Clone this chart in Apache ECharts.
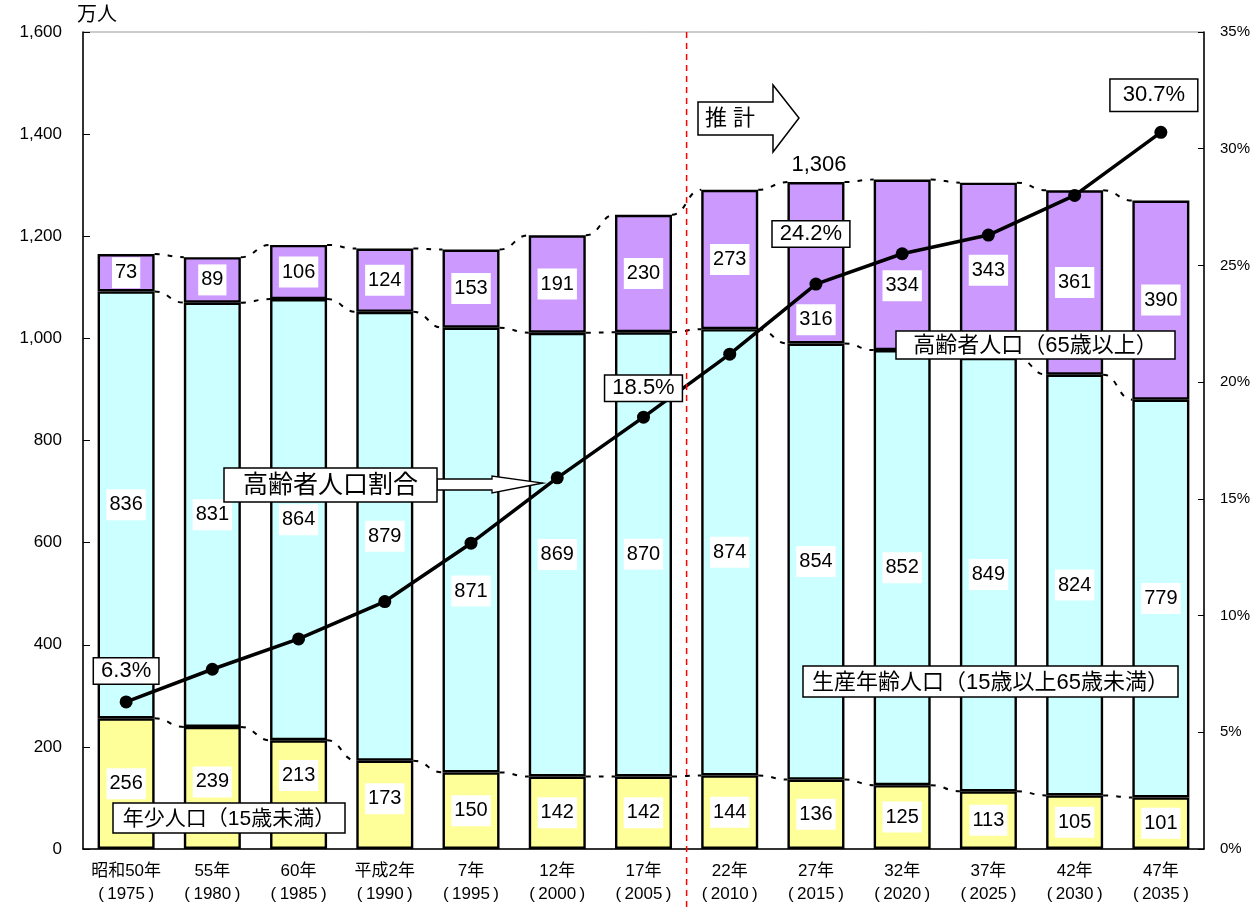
<!DOCTYPE html>
<html><head><meta charset="utf-8">
<script src="https://cdn.jsdelivr.net/npm/echarts@6/dist/echarts.min.js"></script>
<style>html,body{margin:0;padding:0;background:#fff}#c{width:1253px;height:908px}</style>
</head><body><div id="c"></div>
<script>
// ---- data ----
const categories = ['昭和50年\n(\u20091975\u2009)','55年\n(\u20091980\u2009)','60年\n(\u20091985\u2009)','平成2年\n(\u20091990\u2009)','7年\n(\u20091995\u2009)','12年\n(\u20092000\u2009)','17年\n(\u20092005\u2009)','22年\n(\u20092010\u2009)','27年\n(\u20092015\u2009)','32年\n(\u20092020\u2009)','37年\n(\u20092025\u2009)','42年\n(\u20092030\u2009)','47年\n(\u20092035\u2009)'];
const youngPop   = [256,239,213,173,150,142,142,144,136,125,113,105,101];
const workingPop = [836,831,864,879,871,869,870,874,854,852,849,824,779];
const elderlyPop = [73,89,106,124,153,191,230,273,316,334,343,361,390];
const elderlyRatio = [6.3,7.7,9.0,10.6,13.1,15.9,18.5,21.2,24.2,25.5,26.3,28.0,30.7];
const leftAxisMax = 1600, leftAxisStep = 200;
const rightAxisMax = 35, rightAxisStep = 5;
const forecastStartIndex = 7;
const peakIndex = 8;

// ---- styles / label placement ----
const FONT = "'Liberation Sans', Arial, 'Noto Sans CJK JP', sans-serif";
const BAR_W = 57;
const youngShift = {1:-6, 2:-19, 3:-6};
const workShift = {4:41};
const elderShift = {8:57, 9:21};
const ratioLabelShift = {0:[0,-7], 6:[0,-5], 8:[-5,-26], 12:[-7,-10]};

const lvl1 = youngPop.slice();
const lvl2 = youngPop.map((v,i)=>v+workingPop[i]);
const lvl3 = lvl2.map((v,i)=>v+elderlyPop[i]);

const barLabel = {
  show:true, position:'inside', color:'#000', fontFamily:FONT, fontSize:20,
  backgroundColor:'#fff', padding:[5,3,5,3], lineHeight:21
};
function barData(arr, shift){
  return arr.map((v,i)=> shift[i] !== undefined ? {value:v, label:{offset:[0,shift[i]]}} : v);
}
const ratioData = elderlyRatio.map((v,i)=>{
  if (ratioLabelShift[i] === undefined) return v;
  const big = i === elderlyRatio.length-1;
  return {value:v, label:{show:true, position:'top', distance:5, offset:ratioLabelShift[i],
    formatter: v.toFixed(1)+'%', color:'#000', fontFamily:FONT, fontSize:22,
    backgroundColor:'#fff', borderColor:'#000', borderWidth:1.5,
    padding: big ? [4,12,4,12] : [1,7,1,7], lineHeight:23}};
});

function renderConnectors(params, api){
  const i = params.dataIndex;
  if (i >= categories.length-1) return null;
  const children = [];
  [lvl1,lvl2,lvl3].forEach(arr=>{
    const p1 = api.coord([i, arr[i]]);
    const p2 = api.coord([i+1, arr[i+1]]);
    const x1 = p1[0]+BAR_W/2, x2 = p2[0]-BAR_W/2, mx=(x1+x2)/2;
    children.push({type:'bezierCurve', shape:{x1:x1,y1:p1[1],x2:x2,y2:p2[1],cpx1:mx,cpy1:p1[1],cpx2:mx,cpy2:p2[1]},
      style:{stroke:'#000', lineWidth:2, lineDash:[5,8], fill:null}});
  });
  return {type:'group', children};
}

const chart = echarts.init(document.getElementById('c'), null, {renderer:'canvas'});
function barSeries(name, data, color){
  return {name:name, type:'bar', stack:'pop', barWidth:BAR_W, data:data, z:2, label:barLabel,
    itemStyle:{color:color, borderColor:'#000', borderWidth:2.4}};
}
chart.setOption({
  animation:false,
  backgroundColor:'#fff',
  textStyle:{fontFamily:FONT},
  grid:{left:83, right:48, top:32, bottom:59, show:true, borderColor:'#999', borderWidth:1},
  xAxis:{type:'category', data:categories,
    axisLine:{lineStyle:{color:'#000', width:1.5}},
    axisTick:{inside:true, length:6, lineStyle:{color:'#000', width:1}},
    axisLabel:{color:'#000', fontSize:17, lineHeight:23, margin:11, fontFamily:FONT, interval:0}},
  yAxis:[
    {type:'value', min:0, max:leftAxisMax, interval:leftAxisStep,
      axisLine:{show:true, lineStyle:{color:'#000', width:1.5}},
      axisTick:{show:true, inside:true, length:7, lineStyle:{color:'#000'}},
      splitLine:{show:false},
      axisLabel:{color:'#000', fontSize:17, margin:21, fontFamily:FONT,
        formatter:v=>v.toLocaleString('en-US')}},
    {type:'value', min:0, max:rightAxisMax, interval:rightAxisStep, position:'right',
      axisLine:{show:true, lineStyle:{color:'#000', width:1.5}},
      axisTick:{show:true, inside:true, length:6, lineStyle:{color:'#000'}},
      splitLine:{show:false},
      axisLabel:{color:'#000', fontSize:15, margin:16, fontFamily:FONT, formatter:'{value}%'}}
  ],
  series:[
    {type:'custom', renderItem:renderConnectors, data:lvl3.map((v,i)=>[i,v]), encode:{x:0,y:1}, z:1, silent:true},
    barSeries('年少人口', barData(youngPop, youngShift), '#FFFF99'),
    barSeries('生産年齢人口', barData(workingPop, workShift), '#CCFFFF'),
    barSeries('高齢者人口', barData(elderlyPop, elderShift), '#CC99FF'),
    {name:'高齢者人口割合', type:'line', yAxisIndex:1, data:ratioData, z:6,
      lineStyle:{color:'#000', width:3.5}, itemStyle:{color:'#000'}, symbol:'circle', symbolSize:13,
      label:{show:false}}
  ]
});

// ---- annotations ----
const gx = i => chart.convertToPixel({xAxisIndex:0}, i);
const gy = v => chart.convertToPixel({yAxisIndex:0}, v);
const splitX = (gx(forecastStartIndex-1) + gx(forecastStartIndex))/2;
function box(x,y,w,h,text,size){
  return [
    {type:'rect', shape:{x:x,y:y,width:w,height:h}, style:{fill:'#fff', stroke:'#000', lineWidth:1.5}, z:20},
    {type:'text', x:x+w/2, y:y+h/2+1, style:{text:text, font:size+'px '+FONT, fill:'#000', align:'center', verticalAlign:'middle'}, z:21}
  ];
}
const graphics = [
  {type:'line', shape:{x1:splitX, y1:32, x2:splitX, y2:908}, style:{stroke:'#ff0000', lineWidth:1.5, lineDash:[6,5]}, z:15},
  {type:'text', x:77, y:15, style:{text:'万人', font:'20px '+FONT, fill:'#000', align:'left', verticalAlign:'middle'}, z:21},
  {type:'polygon', shape:{points:[[698,102],[773,102],[773,85],[799,118],[773,152],[773,135],[698,135]]}, style:{fill:'#fff', stroke:'#000', lineWidth:1.5}, z:20},
  {type:'text', x:705, y:119, style:{text:'推 計', font:'22px '+FONT, fill:'#000', align:'left', verticalAlign:'middle'}, z:21},
  {type:'text', x:gx(peakIndex)+3, y:gy(lvl3[peakIndex])-17, style:{text:lvl3[peakIndex].toLocaleString('en-US'), font:'22px '+FONT, fill:'#000', align:'center', verticalAlign:'middle'}, z:21},
  {type:'polygon', shape:{points:[[437,479],[492,479],[492,476],[543,483],[492,493],[492,490],[437,490]]}, style:{fill:'#fff', stroke:'#000', lineWidth:1.3}, z:20}
].concat(
  box(224,468,213,34,'高齢者人口割合',25),
  box(113,803,232,30,'年少人口（15歳未満）',21),
  box(803,666,375,31,'生産年齢人口（15歳以上65歳未満）',22),
  box(896,331,279,28,'高齢者人口（65歳以上）',22)
);
chart.setOption({graphic:graphics});
</script>
</body></html>
